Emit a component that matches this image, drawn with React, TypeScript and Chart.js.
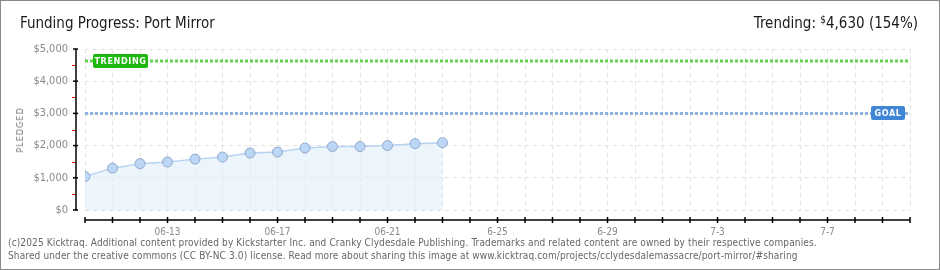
import React, { useEffect, useRef } from 'react';
import { Chart, registerables } from 'chart.js';
Chart.register(...registerables);

const dayLabels = [
  '06-10','06-11','06-12','06-13','06-14','06-15','06-16','06-17','06-18','06-19','06-20',
  '06-21','06-22','06-23','06-24','06-25','06-26','06-27','06-28','06-29','06-30',
  '07-01','07-02','07-03','07-04','07-05','07-06','07-07','07-08','07-09','07-10',
];
const pledged = [1040, 1300, 1440, 1490, 1580, 1645, 1770, 1800, 1925, 1970, 1970, 2000, 2060, 2090];
const goal = 3000;
const trending = 4630;
const yMax = 5000;
const yStep = 1000;
const xTickIndex = [3, 7, 11, 15, 19, 23, 27];
const xTickLabels = ['06-13', '06-17', '06-21', '6-25', '6-29', '7-3', '7-7'];

const FONT = "'DejaVu Sans Condensed','DejaVu Sans',sans-serif";

function drawBox(ctx: CanvasRenderingContext2D, x: number, cy: number, w: number, text: string, color: string) {
  const h = 14;
  const y = Math.round(cy - h / 2);
  ctx.save();
  ctx.fillStyle = color;
  ctx.beginPath();
  (ctx as any).roundRect(x, y, w, h, 2);
  ctx.fill();
  ctx.fillStyle = '#ffffff';
  ctx.font = `bold 9px ${FONT}`;
  (ctx as any).letterSpacing = '0.6px';
  ctx.textAlign = 'center';
  ctx.textBaseline = 'middle';
  ctx.fillText(text, x + w / 2, y + h / 2 + 0.5);
  ctx.restore();
}

const decor = {
  id: 'decor',
  afterDatasetsDraw(chart: any) {
    const { ctx, chartArea: a, scales } = chart;
    const y = scales.y;
    drawBox(ctx, a.left + 8, y.getPixelForValue(trending), 55, 'TRENDING', '#1fb70f');
    drawBox(ctx, a.right - 39, y.getPixelForValue(goal), 34, 'GOAL', '#3f86d6');
  },
  afterDraw(chart: any) {
    const { ctx, chartArea: a, scales } = chart;
    const x = scales.x;
    const y = scales.y;
    ctx.save();
    const ax = a.left - 9;
    // minor red ticks
    ctx.strokeStyle = '#e00000';
    ctx.lineWidth = 1;
    for (let v = yStep / 2; v < yMax; v += yStep) {
      const py = Math.round(y.getPixelForValue(v)) + 0.5;
      ctx.beginPath();
      ctx.moveTo(ax - 4, py);
      ctx.lineTo(ax, py);
      ctx.stroke();
    }
    // y axis
    ctx.strokeStyle = '#000';
    ctx.lineWidth = 1.5;
    ctx.beginPath();
    ctx.moveTo(ax, a.top);
    ctx.lineTo(ax, a.bottom + 0.5);
    ctx.stroke();
    for (let v = 0; v <= yMax; v += yStep) {
      const py = y.getPixelForValue(v);
      ctx.beginPath();
      ctx.moveTo(ax - 3, py);
      ctx.lineTo(ax + 2, py);
      ctx.stroke();
    }
    // x axis
    const ay = a.bottom + 10;
    ctx.beginPath();
    ctx.moveTo(a.left, ay);
    ctx.lineTo(a.right, ay);
    ctx.stroke();
    for (let i = 0; i < dayLabels.length; i++) {
      const px = x.getPixelForValue(i);
      ctx.beginPath();
      ctx.moveTo(px, ay - 3);
      ctx.lineTo(px, ay + 3);
      ctx.stroke();
    }
    ctx.restore();
  },
};

export default function App() {
  const ref = useRef<HTMLCanvasElement>(null);
  useEffect(() => {
    if (!ref.current) return;
    const last = dayLabels.length - 1;
    const chart = new Chart(ref.current, {
      type: 'line',
      data: {
        datasets: [
          {
            label: 'Pledged',
            data: pledged.map((v, i) => ({ x: i, y: v })),
            borderColor: '#b7d2f2',
            borderWidth: 1.5,
            backgroundColor: 'rgba(224,236,250,0.6)',
            fill: 'origin',
            pointRadius: 5,
            pointBackgroundColor: '#bcd6f5',
            pointBorderColor: '#8ea9cb',
            pointBorderWidth: 1,
            tension: 0,
          },
          {
            label: 'Goal',
            data: [{ x: 0, y: goal }, { x: last, y: goal }],
            borderColor: '#8eb2de',
            borderWidth: 3,
            borderDash: [3, 2],
            pointRadius: 0,
            fill: false,
          },
          {
            label: 'Trending',
            data: [{ x: 0, y: trending }, { x: last, y: trending }],
            borderColor: '#5fd44c',
            borderWidth: 3,
            borderDash: [3, 2],
            pointRadius: 0,
            fill: false,
          },
        ],
      },
      options: {
        animation: false,
        responsive: false,
        devicePixelRatio: 1,
        layout: { padding: { top: 49, right: 30, left: 0, bottom: 0 } },
        plugins: { legend: { display: false }, tooltip: { enabled: false }, title: { display: false } },
        scales: {
          x: {
            type: 'linear',
            min: 0,
            max: last,
            afterFit: (s: any) => { s.height = 60; },
            grid: { color: '#e2e2e2', drawTicks: false, lineWidth: 1 },
            border: { display: false, dash: [4, 4] },
            ticks: {
              stepSize: 1,
              autoSkip: false,
              maxRotation: 0,
              padding: 16,
              color: '#8a8a8a',
              font: { family: FONT, size: 10 },
              callback: (v: any) => {
                const k = xTickIndex.indexOf(Number(v));
                return k >= 0 ? xTickLabels[k] : '';
              },
            },
          },
          y: {
            min: 0,
            max: yMax,
            afterFit: (s: any) => { s.width = 85; },
            grid: { color: '#e2e2e2', drawTicks: false, lineWidth: 1 },
            border: { display: false, dash: [4, 4] },
            ticks: {
              stepSize: yStep,
              padding: 17,
              color: '#8a8a8a',
              font: { family: FONT, size: 11 },
              callback: (v: any) => '$' + Number(v).toLocaleString('en-US'),
            },
          },
        },
      },
      plugins: [decor],
    } as any);
    return () => chart.destroy();
  }, []);

  return (
    <div style={{ position: 'absolute', left: 0, top: 0, width: 940, height: 270, background: '#fff', overflow: 'hidden', fontFamily: FONT }}>
      <canvas ref={ref} width={940} height={270} style={{ position: 'absolute', left: 0, top: 0, width: 940, height: 270 }} />
      <div style={{ position: 'absolute', left: 20, top: 14, fontSize: 15, color: '#1a1a1a', whiteSpace: 'nowrap' }}>
        Funding Progress: Port Mirror
      </div>
      <div style={{ position: 'absolute', right: 22, top: 14, fontSize: 15, color: '#1a1a1a', whiteSpace: 'nowrap' }}>
        Trending: <sup style={{ fontSize: 10, verticalAlign: 5 }}>$</sup>4,630 (154%)
      </div>
      <div style={{ position: 'absolute', left: 20, top: 130, transform: 'translate(-50%,-50%) rotate(-90deg)', fontSize: 9, letterSpacing: 1, color: '#777', whiteSpace: 'nowrap' }}>
        PLEDGED
      </div>
      <div style={{ position: 'absolute', left: 8, top: 236, fontSize: 10, letterSpacing: 0.13, lineHeight: '13px', color: '#666', whiteSpace: 'nowrap' }}>
        <div>(c)2025 Kicktraq. Additional content provided by Kickstarter Inc. and Cranky Clydesdale Publishing. Trademarks and related content are owned by their respective companies.</div>
        <div>Shared under the creative commons (CC BY-NC 3.0) license. Read more about sharing this image at www.kicktraq.com/projects/cclydesdalemassacre/port-mirror/#sharing</div>
      </div>
      <div style={{ position: 'absolute', left: 0, top: 0, width: 940, height: 270, boxSizing: 'border-box', border: '1px solid #8a8a8a', pointerEvents: 'none' }} />
    </div>
  );
}
